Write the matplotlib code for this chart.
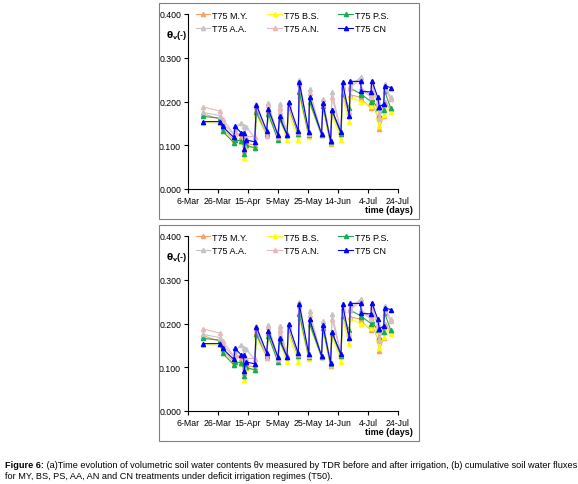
import datetime as dt
import matplotlib
matplotlib.use("Agg")
import matplotlib.pyplot as plt
import matplotlib.dates as mdates
from matplotlib.patches import Rectangle

plt.rcParams['font.family'] = ['Liberation Sans', 'DejaVu Sans']

# days after 6-Mar of each TDR reading (before / after irrigation)
days = [10, 21, 23, 30.5, 31.5, 35.5, 37, 37.5, 38.5, 44.5, 45.5, 52.5, 53.5,
        60, 61, 66, 67, 73.5, 74.2, 80.5, 81, 89, 90, 95, 96, 102, 103,
        107.5, 108.2, 115, 115.6, 122, 122.5, 126.5, 127.5, 130.5, 131, 135]

my = [0.172, 0.160, 0.140, 0.112, 0.130, 0.118, 0.116, 0.088, 0.105, 0.100,
      0.180, 0.128, 0.178, 0.120, 0.186, 0.125, 0.185, 0.126, 0.225, 0.125,
      0.200, 0.125, 0.190, 0.102, 0.175, 0.126, 0.215, 0.170, 0.215, 0.210,
      0.205, 0.185, 0.200, 0.165, 0.138, 0.168, 0.200, 0.182]
bs = [0.152, 0.150, 0.138, 0.108, 0.112, 0.108, 0.106, 0.072, 0.095, 0.094,
      0.170, 0.122, 0.172, 0.112, 0.160, 0.112, 0.175, 0.112, 0.212, 0.118,
      0.195, 0.123, 0.180, 0.106, 0.170, 0.112, 0.208, 0.153, 0.210, 0.200,
      0.200, 0.190, 0.215, 0.165, 0.145, 0.170, 0.190, 0.177]
ps = [0.166, 0.162, 0.132, 0.106, 0.112, 0.110, 0.108, 0.080, 0.100, 0.094,
      0.175, 0.126, 0.172, 0.112, 0.160, 0.123, 0.190, 0.125, 0.222, 0.123,
      0.200, 0.124, 0.190, 0.108, 0.180, 0.125, 0.218, 0.185, 0.230, 0.218,
      0.216, 0.200, 0.205, 0.185, 0.170, 0.180, 0.225, 0.186]
aa = [0.175, 0.168, 0.150, 0.125, 0.138, 0.152, 0.145, 0.100, 0.142, 0.118,
      0.195, 0.130, 0.196, 0.120, 0.195, 0.128, 0.195, 0.130, 0.250, 0.127,
      0.228, 0.125, 0.205, 0.112, 0.222, 0.130, 0.235, 0.175, 0.235, 0.255,
      0.230, 0.215, 0.240, 0.200, 0.160, 0.200, 0.240, 0.210]
an = [0.188, 0.178, 0.160, 0.126, 0.125, 0.128, 0.125, 0.118, 0.120, 0.120,
      0.188, 0.122, 0.192, 0.118, 0.185, 0.124, 0.190, 0.130, 0.240, 0.125,
      0.220, 0.125, 0.200, 0.110, 0.210, 0.130, 0.230, 0.175, 0.232, 0.250,
      0.228, 0.210, 0.235, 0.195, 0.165, 0.195, 0.232, 0.205]
cn = [0.154, 0.154, 0.143, 0.118, 0.143, 0.128, 0.128, 0.092, 0.112, 0.108,
      0.193, 0.133, 0.184, 0.123, 0.166, 0.124, 0.198, 0.132, 0.244, 0.130,
      0.210, 0.126, 0.196, 0.110, 0.180, 0.130, 0.244, 0.167, 0.246, 0.246,
      0.223, 0.222, 0.248, 0.210, 0.188, 0.194, 0.236, 0.232]

names = ['T75 M.Y.', 'T75 B.S.', 'T75 P.S.', 'T75 A.A.', 'T75 A.N.', 'T75 CN']
series = [my, bs, ps, aa, an, cn]
colors = ['#F9A064', '#FFFF00', '#1AA85A', '#C4C4C4', '#E8B8B8', '#0000FF']

start = dt.datetime(2010, 3, 6)
dates = [start + dt.timedelta(days=d) for d in days]

fig = plt.figure(figsize=(5.78, 4.85), dpi=100)

def draw_panel(bottom_px, box_bottom_px):
    fig.patches.append(Rectangle((159/578, 1 - box_bottom_px/485), 260/578, 216/485,
                                 transform=fig.transFigure, fill=False,
                                 edgecolor='#808080', linewidth=0.8))
    ax = fig.add_axes([188/578, 1 - bottom_px/485, 210/578, 175/485])
    lines = []
    for name, vals, c in zip(names, series, colors):
        ln, = ax.plot(dates, vals, color=c, marker='^', markersize=3.0,
                      linewidth=0.8, label=name)
        lines.append(ln)
    ax.set_ylim(0, 0.4)
    ax.set_yticks([0, 0.1, 0.2, 0.3, 0.4])
    ax.set_yticklabels(['0.000', '0.100', '0.200', '0.300', '0.400'])
    ax.set_xlim(start, start + dt.timedelta(days=140))
    ax.set_xticks([start + dt.timedelta(days=20 * i) for i in range(8)])
    ax.xaxis.set_major_formatter(mdates.DateFormatter('%-d-%b'))
    for s in ['top', 'right']:
        ax.spines[s].set_visible(False)
    for s in ['left', 'bottom']:
        ax.spines[s].set_linewidth(0.8)
    ax.tick_params(labelsize=6.3, length=3, width=0.8, pad=2)
    order = [0, 3, 1, 4, 2, 5]
    ax.legend([lines[i] for i in order], [names[i] for i in order], ncol=3,
              loc='upper left', bbox_to_anchor=(0.02, 1.04), frameon=False,
              fontsize=6.5, handlelength=1.6, handletextpad=0.2,
              columnspacing=2.2, labelspacing=0.45, borderaxespad=0)
    ax.text(-0.055, 0.88, r'$\mathbf{\theta_v}$(-)', transform=ax.transAxes,
            fontsize=6.5, fontweight='bold', ha='center', va='center')
    ax.text(1.07, -0.115, 'time (days)', transform=ax.transAxes, fontsize=6.5,
            fontweight='bold', ha='right', va='center')

draw_panel(190, 220)
draw_panel(412, 442)

t1 = fig.text(5/578, 1 - 468/485, 'Figure 6:', fontsize=6.6, fontweight='bold',
              va='baseline')
fig.canvas.draw()
plt.annotate(' (a)Time evolution of volumetric soil water contents \u03b8v measured by TDR '
             'before and after irrigation, (b) cumulative soil water fluxes',
             xy=(1, 0), xycoords=t1, fontsize=6.6, va='bottom')
fig.text(5/578, 1 - 479/485, 'for MY, BS, PS, AA, AN and CN treatments under deficit '
         'irrigation regimes (T50).', fontsize=6.6, va='baseline')

fig.savefig('out.png', dpi=100)
